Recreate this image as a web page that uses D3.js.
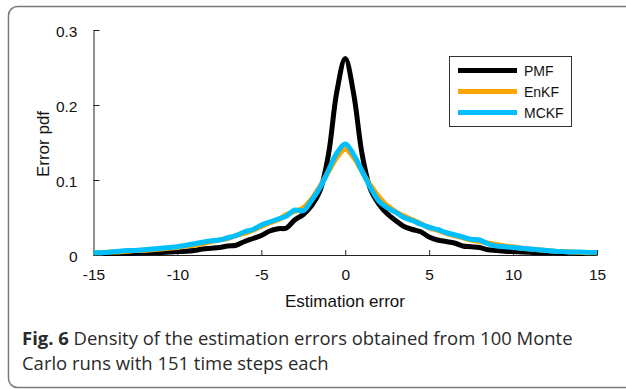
<!DOCTYPE html>
<html><head><meta charset="utf-8">
<script src="https://cdn.jsdelivr.net/npm/d3@7"></script>
<style>html,body{margin:0;padding:0;background:#fff;}svg{display:block;}</style>
</head><body>
<script>
const xs = d3.range(-15, 15.001, 0.5).map(v => +v.toFixed(1));
const pmf = [0.002,0.002,0.002,0.002,0.002,0.0025,0.003,0.003,0.003,0.004,0.0045,0.005,0.006,0.008,0.009,0.010,0.012,0.013,0.018,0.022,0.026,0.032,0.035,0.036,0.047,0.054,0.066,0.086,0.134,0.218,0.262,0.215,0.135,0.088,0.068,0.055,0.046,0.038,0.034,0.031,0.024,0.020,0.018,0.016,0.012,0.011,0.010,0.007,0.006,0.005,0.0045,0.004,0.0035,0.003,0.003,0.003,0.0025,0.0025,0.002,0.002,0.002];
const enkf = [0.003,0.003,0.004,0.004,0.005,0.006,0.006,0.007,0.008,0.009,0.010,0.012,0.013,0.015,0.018,0.020,0.022,0.026,0.029,0.033,0.038,0.043,0.047,0.054,0.058,0.063,0.075,0.092,0.111,0.130,0.141,0.130,0.111,0.093,0.078,0.066,0.058,0.052,0.047,0.042,0.036,0.033,0.029,0.026,0.023,0.020,0.018,0.016,0.014,0.012,0.011,0.009,0.008,0.007,0.006,0.005,0.0045,0.004,0.0035,0.003,0.003];
const mckf = [0.003,0.003,0.004,0.005,0.006,0.006,0.007,0.008,0.009,0.010,0.011,0.013,0.015,0.017,0.019,0.020,0.023,0.026,0.031,0.034,0.040,0.044,0.048,0.052,0.060,0.059,0.073,0.090,0.113,0.136,0.148,0.134,0.112,0.090,0.072,0.063,0.057,0.050,0.046,0.041,0.037,0.034,0.030,0.027,0.024,0.021,0.020,0.015,0.012,0.011,0.010,0.009,0.008,0.007,0.006,0.005,0.0045,0.004,0.004,0.0035,0.0035];
const seriesNames = ["PMF","EnKF","MCKF"];
const seriesColors = ["#000000","#FFA500","#00BFFF"];
const xTicks = [-15,-10,-5,0,5,10,15];
const yTicks = [0,0.1,0.2,0.3];
const xLabel = "Estimation error";
const yLabel = "Error pdf";
const captionBold = "Fig. 6";
const captionLine1 = " Density of the estimation errors obtained from 100 Monte";
const captionLine2 = "Carlo runs with 151 time steps each";

const W = 626, H = 389;
const svg = d3.select("body").append("svg").attr("width", W).attr("height", H);

svg.append("rect").attr("x",8.5).attr("y",6.5).attr("width",660).attr("height",381)
  .attr("rx",9).attr("fill","none").attr("stroke","#7a7a7a").attr("stroke-width",1.5);

const x = d3.scaleLinear().domain([-15,15]).range([93.5,597]);
const y = d3.scaleLinear().domain([0,0.3]).range([255,30]);
const font = "'Liberation Sans', Arial, Helvetica, sans-serif";

const gx = svg.append("g").attr("transform","translate(0,255)")
  .call(d3.axisBottom(x).tickValues(xTicks).tickSizeInner(-5).tickSizeOuter(0).tickPadding(14).tickFormat(d => String(d)));
const gy = svg.append("g").attr("transform","translate(93.5,0)")
  .call(d3.axisLeft(y).tickValues(yTicks).tickSizeInner(-6).tickSizeOuter(0).tickPadding(16).tickFormat(d => d === 0 ? "0" : d3.format(".1f")(d)));
[gx, gy].forEach(g => {
  g.selectAll("path.domain").attr("stroke","#222").attr("stroke-width",1);
  g.selectAll(".tick line").attr("stroke","#222").attr("stroke-width",1);
  g.selectAll("text").attr("font-family",font).attr("font-size",15.5).attr("fill","#111");
});
gx.selectAll(".tick text").attr("dy","0.71em");
gy.selectAll(".tick text").attr("dy","0.4em");

const line = d3.line().x((d,i) => x(xs[i])).y(d => y(d)).curve(d3.curveCatmullRom.alpha(0.5));
const data = [pmf, enkf, mckf];
data.forEach((s, k) => {
  svg.append("path").datum(s).attr("d", line).attr("fill","none")
    .attr("stroke", seriesColors[k]).attr("stroke-width",5).attr("stroke-linejoin","round").attr("stroke-linecap","butt");
});

// legend
const lg = svg.append("g");
lg.append("rect").attr("x",449.5).attr("y",56.5).attr("width",122).attr("height",70)
  .attr("fill","#fff").attr("stroke","#333").attr("stroke-width",1);
seriesNames.forEach((n,k) => {
  const yy = 70.5 + k*21;
  lg.append("line").attr("x1",458).attr("x2",517).attr("y1",yy).attr("y2",yy)
    .attr("stroke",seriesColors[k]).attr("stroke-width",5);
  lg.append("text").attr("x",524).attr("y",yy).attr("dy","0.36em").text(n)
    .attr("font-family",font).attr("font-size",14).attr("fill","#111");
});

svg.append("text").attr("x",345).attr("y",307).attr("text-anchor","middle")
  .attr("font-family",font).attr("font-size",17).attr("fill","#111").text(xLabel);
svg.append("text").attr("transform","translate(49,144) rotate(-90)").attr("text-anchor","middle")
  .attr("font-family",font).attr("font-size",17).attr("fill","#111").text(yLabel);

const capFont = "'Open Sans', 'Noto Sans', sans-serif";
const t1 = svg.append("text").attr("x",22).attr("y",345).attr("font-family",capFont).attr("font-size",18).attr("fill","#2a2a2a");
t1.append("tspan").attr("font-weight","bold").text(captionBold);
t1.append("tspan").text(captionLine1);
const t2 = svg.append("text").attr("x",22).attr("y",370).attr("font-family",capFont).attr("font-size",18).attr("fill","#2a2a2a").text(captionLine2);
// fit caption to reference width
const target = 551;
const len = t1.node().getComputedTextLength();
const fs = 18 * target / len;
t1.attr("font-size", fs); t2.attr("font-size", fs);
</script>
</body></html>
